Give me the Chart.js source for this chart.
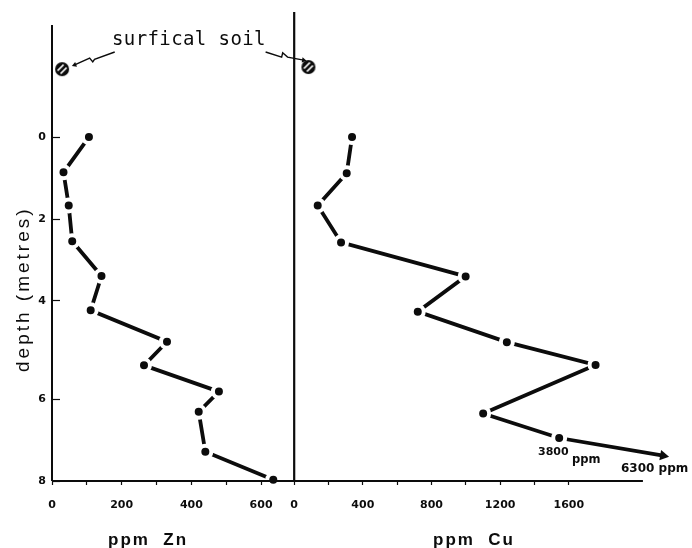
<!DOCTYPE html>
<html lang="en">
<head>
  <meta charset="UTF-8">
  <title>Depth profile of Zn and Cu</title>
  <script src="https://cdn.jsdelivr.net/npm/chart.js"></script>
  <style>
    html, body { margin: 0; background: #fff; }
    canvas { display: block; }
  </style>
</head>
<body>
  <canvas id="chart" width="692" height="548"></canvas>

  <script>
    // values
    const znValues = [106, 33, 48, 58, 142, 111, 330, 264, 479, 421, 440, 635];
    const znDepths = [0, 0.82, 1.59, 2.42, 3.23, 4.03, 4.76, 5.31, 5.92, 6.39, 7.32, 7.97];
    const cuValues = [337, 306, 137, 273, 999, 720, 1239, 1756, 1101, 1544, 2150];
    const cuDepths = [0, 0.84, 1.59, 2.45, 3.24, 4.06, 4.77, 5.30, 6.43, 7.0, 7.41];

    const surfaceZn = [29];
    const surfaceZnDepth = [-1.58];
    const surfaceCu = [83];
    const surfaceCuDepth = [-1.63];

    const depthTicks = [0, 1.91, 3.81, 6.1, 8];
    const depthTickLabels = ['0', '2', '4', '6', '8'];
    const znTicks = [0, 100, 200, 300, 400, 500, 600];
    const znTickLabels = ['0', '', '200', '', '400', '', '600'];
    const cuTicks = [0, 200, 400, 600, 800, 1000, 1200, 1400, 1600];
    const cuTickLabels = ['0', '', '400', '', '800', '', '1200', '', '1600'];

    // squiggly leaders from the "surfical soil" label, on the Zn scale
    const leaderLeftX = [180, 122, 117, 108, 65];
    const leaderLeftY = [-1.98, -1.81, -1.75, -1.84, -1.68];
    const leaderRightX = [613, 659, 662, 676, 722];
    const leaderRightY = [-1.98, -1.86, -1.96, -1.86, -1.79];

    const INK = '#0c0c0c';
    const zip = (xs, ys) => xs.map((x, i) => ({ x, y: ys[i] }));

    // black disc with two white diagonal stripes for the surface samples
    const hatched = document.createElement('canvas');
    hatched.width = hatched.height = 16;
    const h = hatched.getContext('2d');
    h.fillStyle = INK;
    h.beginPath();
    h.arc(8, 8, 7, 0, Math.PI * 2);
    h.fill();
    h.strokeStyle = '#fff';
    h.lineWidth = 1.7;
    h.beginPath();
    h.moveTo(3.5, 9.5);
    h.lineTo(9.5, 3.5);
    h.moveTo(6.5, 12.5);
    h.lineTo(12.5, 6.5);
    h.stroke();

    function profile(data, xAxisID, arrow) {
      const last = data.length - 1;
      const isArrow = c => arrow && c.dataIndex === last;
      return {
        data, xAxisID, clip: false,
        borderColor: INK, borderWidth: 3.8,
        borderCapStyle: 'butt', tension: 0,
        pointStyle: c => isArrow(c) ? 'triangle' : 'circle',
        pointRotation: c => isArrow(c) ? 100 : 0,
        pointRadius: c => isArrow(c) ? 6 : 6,
        pointBackgroundColor: INK,
        pointBorderColor: c => isArrow(c) ? INK : '#fff',
        pointBorderWidth: c => isArrow(c) ? 0 : 4
      };
    }

    function thinLine(data, xAxisID, width) {
      return {
        data, xAxisID, clip: false,
        borderColor: INK, borderWidth: width,
        pointRadius: 0
      };
    }

    function leader(data, rotation) {
      const last = data.length - 1;
      return {
        data, xAxisID: 'xZn', clip: false,
        borderColor: INK, borderWidth: 1.4,
        pointStyle: 'triangle',
        pointRotation: rotation,
        pointRadius: c => c.dataIndex === last ? 3 : 0,
        pointBackgroundColor: INK,
        pointBorderWidth: 0
      };
    }

    function marker(data, xAxisID) {
      return {
        data, xAxisID, clip: false, showLine: false,
        pointStyle: hatched, pointRadius: 8
      };
    }

    // free text: labels that sit on the picture and not on an axis
    const notes = {
      id: 'notes',
      afterDraw(chart) {
        const c = chart.ctx;
        const put = (text, x, y, font, spacing, angle) => {
          c.save();
          c.translate(x, y);
          if (angle) c.rotate(angle);
          c.font = font;
          c.letterSpacing = spacing || '0px';
          c.fillStyle = INK;
          c.textAlign = 'left';
          c.textBaseline = 'alphabetic';
          c.fillText(text, 0, 0);
          c.restore();
        };
        put('surfical soil', 112, 45, '19px "DejaVu Sans Mono"', '0.4px');
        put('depth (metres)', 29, 372, '19px "Liberation Sans"', '3px', -Math.PI / 2);
        put('ppm  Zn', 108, 545, 'bold 17px "Liberation Sans"', '2px');
        put('ppm  Cu', 433, 545, 'bold 17px "Liberation Sans"', '2px');
        put('3800', 538, 455, 'bold 11px "DejaVu Sans"');
        put('ppm', 572, 463, 'bold 11.5px "DejaVu Sans"');
        put('6300 ppm', 621, 472, 'bold 12px "DejaVu Sans"');
      }
    };

    const tickFont = { family: 'DejaVu Sans', size: 11, weight: 'bold' };

    function xAxis(ticks, labels, weight) {
      return {
        type: 'linear',
        position: 'bottom',
        stack: 'panels',
        stackWeight: weight,
        afterBuildTicks: s => { s.ticks = ticks.map(value => ({ value })); },
        afterFit: s => { s.height = 67; s.paddingLeft = 0; s.paddingRight = 0; },
        grid: {
          drawOnChartArea: false, tickLength: 4, tickColor: INK, tickWidth: 1.2
        },
        border: { display: false },
        ticks: {
          autoSkip: false, maxRotation: 0, minRotation: 0,
          padding: 14, color: INK, font: tickFont,
          callback: (v, i) => labels[i]
        }
      };
    }

    new Chart(document.getElementById('chart').getContext('2d'), {
      type: 'line',
      data: {
        datasets: [
          thinLine(zip([0, 0], [-2.61, 8]), 'xZn', 2),
          thinLine(zip([0, 0], [-2.91, 8]), 'xCu', 2.2),
          thinLine(zip([0, 695], [8, 8]), 'xZn', 2),
          thinLine(zip([0, 2032], [8, 8]), 'xCu', 2),
          profile(zip(znValues, znDepths), 'xZn', false),
          profile(zip(cuValues, cuDepths), 'xCu', true),
          marker(zip(surfaceZn, surfaceZnDepth), 'xZn'),
          marker(zip(surfaceCu, surfaceCuDepth), 'xCu'),
          leader(zip(leaderLeftX, leaderLeftY), 250),
          leader(zip(leaderRightX, leaderRightY), 100)
        ]
      },
      options: {
        responsive: false,
        animation: false,
        layout: { padding: { top: 12, right: 12, bottom: 0, left: 0 } },
        plugins: { legend: { display: false }, tooltip: { enabled: false } },
        scales: {
          xZn: { ...xAxis(znTicks, znTickLabels, 242), min: 0, max: 695 },
          xCu: { ...xAxis(cuTicks, cuTickLabels, 385.5), min: 0, max: 2248 },
          y: {
            type: 'linear',
            reverse: true,
            min: -2.91,
            max: 8,
            afterBuildTicks: s => { s.ticks = depthTicks.map(value => ({ value })); },
            afterFit: s => { s.width = 52; s.paddingTop = 0; s.paddingBottom = 0; },
            grid: {
              drawOnChartArea: false, tickLength: -8, tickColor: INK, tickWidth: 1.2
            },
            border: { display: false },
            ticks: {
              autoSkip: false, padding: 14, color: INK, font: tickFont,
              callback: (v, i) => depthTickLabels[i]
            }
          }
        }
      },
      plugins: [notes]
    });
  </script>
</body>
</html>
